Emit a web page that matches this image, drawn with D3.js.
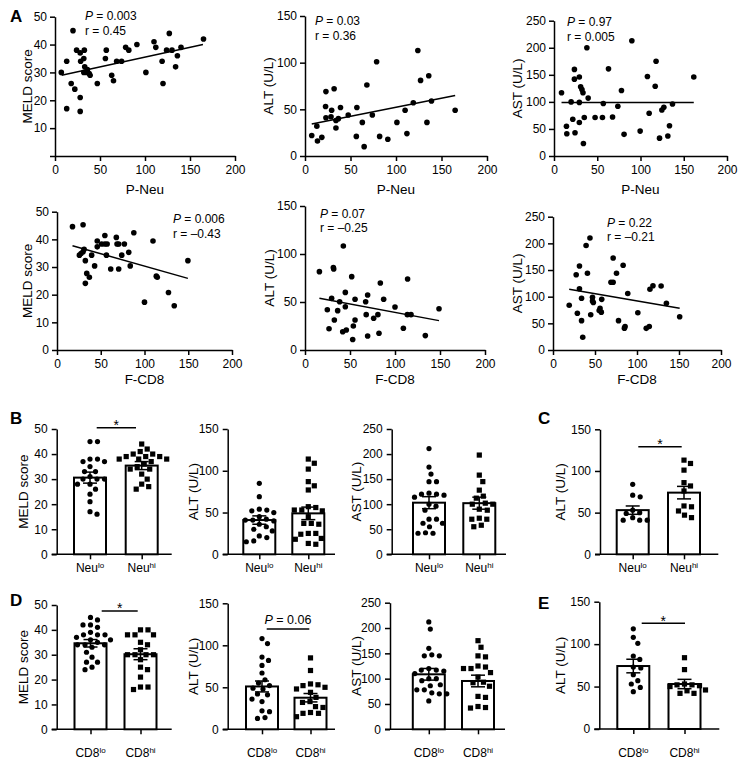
<!DOCTYPE html>
<html><head><meta charset="utf-8">
<script src="https://cdn.jsdelivr.net/npm/d3@7"></script>
<style>
body{margin:0;background:#fff;}
svg text{font-family:"Liberation Sans",Arial,Helvetica,sans-serif;fill:#000;}
</style></head><body>
<svg id="chart" width="741" height="762"></svg>
<script>
// ---------- DATA ----------
const xTicks = [0, 50, 100, 150, 200];
// A: P-Neu scatter
const meldPNeuX = [7,13,13,18,20,22,24,28,28.5,28,28,32.6,32,32,33,35,36,38,39,47,56,57,63,65,68.5,74,78.5,82,91,101,110,112,119,120,124,127,130,134,136,140,165];
const meldPNeuY = [30,34,17,26,45,24,38,37,34,21,16,38,35,30,32,30,31,29.6,29,26,35,38,29,27,34,34,39,38,40,30,41,39,34,26,38,44,38,32,36,39,42];
const altPNeuX = [7.4,13,13.7,18.5,23,22.6,23,28.6,29.3,32,34,34,36.7,39,47.5,56.4,57,63,65,68,74,78.7,82,91,101,110,112,119,124,127,134,136,139,165];
const altPNeuY = [22,32,16,20,69,53,41,42,49,72,38,30,40,52,44,21,52,36,10,76,44,101,21,18,36,49,24,57,113,81,36,86,59,49];
const astPNeuX = [8.7,14.4,14.8,19.8,21.7,23.6,23.6,24.3,29.3,29.3,29.3,30.8,32.3,33.5,35,34,38,39.5,47.5,57,56,63,67.7,73.8,78,81,90,99.6,108,110,117,118,122,124.7,127,131.6,133.5,137,161.6];
const astPNeuY = [117,55,41,100,68,160,142,43,146,99,62,128,123,117,71,23,200,107,71,97,71,161,72,92,121,40,213,46,147,79,129,175,33,85,90,37,56,96,146];
// A: F-CD8 scatter
const meldFCD8X = [17.7,29.8,25.6,27.5,29.8,31,32.4,32.4,34,37,39.6,43,46,46,51,54.7,54.7,57.3,56.5,61.4,67.8,68.6,70.5,70.5,74,77,82,83.7,87.8,100,109.7,113.5,114.6,127.4,134,149.6];
const meldFCD8Y = [44.6,45.3,34.3,34.9,35.5,36.4,32.3,24.1,27.7,26.3,34.3,30.4,39.4,37.3,38.3,41.4,38.3,38.3,34.3,29.3,40.7,38.3,38.3,29.3,34.3,38.3,35.3,30.4,42.4,17.3,39.4,26.7,26.3,20.8,16,32.3];
const altFCD8X = [16,24.8,26.7,29.6,31.5,31.9,32.6,36.3,38.5,41.9,42.6,44.8,44.8,45.9,51.9,53,53.7,55.6,55.6,67.4,68,69.6,69.6,76.3,81,82.2,83.7,87.4,100,109.3,114,113.7,117.8,133.7,148.9];
const altFCD8Y = [81.6,42,22.2,53.8,86,84.4,31.3,41,50.3,19,108.3,60,45,20.8,76.4,11,25,52.8,31.3,50.3,36.8,57.3,14.6,33,36.8,17.4,69.8,52.8,44.8,22.6,74,36.8,36.8,15,43];
const astFCD8X = [19.3,27.6,29,31.5,31.5,34,34,35.4,39.4,41,44,44.9,47,47,48,55,56,57.5,58,69,71.6,71.6,75.6,78,83.5,85,85.8,89,101,111,114.6,115.4,119,128.7,135,150.8];
const astFCD8Y = [84,141,69,157.5,115,97,55,24,196,144,210,66,92,99,89,74,78,71,95,127,127,172.5,144,55,159,41,44,106,70,40.6,44,114,120.6,120,87.5,62.5];
// regression lines [xStart, yStart, xEnd, yEnd]
const fitLines = [[7.4,29,164.4,40],[7.4,34.4,165,64.8],[8.7,98.8,161.6,98.8],[17.7,37.7,149.6,25.9],[16,53.8,148.9,30.6],[19.3,113.75,150.8,78.1]];
const statP = ["0.003","0.03","0.97","0.006","0.07","0.22"];
const statR = ["0.45","0.36","0.005","\u20130.43","\u20130.25","\u20130.21"];

// B: Neu groups
const bMeldLo = [45,45,38,38,37,37,35,33,33,31,30,30,30,28,28,26,24,21,17,16];
const bMeldHi = [44,42,41,40,40,39,39,39,38,38,38,37,36,35,34,34,32,30,28,27,26];
const bAltLo = [85,69,54,53,52,50,45,42,41,41,40,36,33,30,28,22,20,16,15];
const bAltHi = [114,109,102,87,82,77,57,56,53,53,52,45,37,37,36,25,25,24,19,18,13,12];
const bAstLo = [211,174,160,145,145,122,120,120,118,114,100,96,88,70,70,62,62,55,43,42,42];
const bAstHi = [198,158,145,128,116,112,102,100,100,90,88,72,70,70,58,55];
// C
const cAltLo = [84,71,69,53,50,49,44,41,41,41];
const cAltHi = [113,109,101,86,82,76,58,57,52,47,44];
// D: CD8 groups
const dMeldLo = [45,44,42,42,41,39,38,38,38,37,36,36,35,34,34,34,33,31,29,27,27,25,24];
const dMeldHi = [40,40,38,38,38,35,34,32,30,30,30,30,28,25,24,21,17,17,16];
const dAltLo = [108,102,86,82,76,67,59,55,52,49,48,42,41,36,33,22,21,14,13];
const dAltHi = [85,70,54,53,52,50,48,44,38,33,32,27,26,20,19,19,15];
const dAstLo = [212,198,160,147,145,145,120,117,117,115,110,100,100,96,88,86,78,78,72,70,70,56];
const dAstHi = [175,162,145,143,125,123,120,120,112,103,93,92,85,65,63,45,43,42];
// E
const eAltLo = [118,108,101,86,82,73,72,64,57,53,49,44];
const eAltHi = [84,70,53,52,52,51,50,46,45,42,42];
// bar means and SEM
const barMeans = {bMeld:[30.6,35.4], bAlt:[41,49], bAst:[103,102], cAlt:[53,74], dMeld:[34.6,30.2], dAlt:[51,37.6], dAst:[108.6,95.4], eAlt:[74.2,53]};
const barSems  = {bMeld:[2.2,1.6], bAlt:[5,7.5], bAst:[12,12], cAlt:[5,7.5], dMeld:[1.5,2.2], dAlt:[6.5,5], dAst:[11.5,11.5], eAlt:[8,5.5]};
const neuCats = [["Neu","lo"],["Neu","hi"]];
const cd8Cats = [["CD8","lo"],["CD8","hi"]];

// ---------- DRAW ----------
const svg = d3.select("#chart");
const LW = 1.5;

function styleAxis(g){
  g.selectAll("path,line").attr("stroke","#000").attr("stroke-width",LW);
  g.selectAll("text").attr("font-size",12).attr("fill","#000");
}

function yLabel(text, x, y){
  svg.append("text").attr("transform",`translate(${x},${y}) rotate(-90)`)
    .attr("text-anchor","middle").attr("dominant-baseline","central")
    .attr("font-size",13.5).text(text);
}

function scatterPanel(c){
  const x = d3.scaleLinear().domain([0,200]).range([c.x0,c.x1]);
  const y = d3.scaleLinear().domain([0,c.ymax]).range([c.y0,c.y1]);
  const gx = svg.append("g").attr("transform",`translate(0,${c.y0})`)
    .call(d3.axisBottom(x).tickValues(xTicks).tickSize(5).tickSizeOuter(0).tickPadding(4));
  styleAxis(gx);
  const gy = svg.append("g").attr("transform",`translate(${c.x0},0)`)
    .call(d3.axisLeft(y).tickValues(d3.range(0,c.ymax+1,c.step)).tickSize(5).tickSizeOuter(0).tickPadding(3)
      .tickFormat(d => (c.hide0 && d===0) ? "" : d));
  styleAxis(gy);
  svg.append("g").selectAll("circle").data(c.xs).join("circle")
    .attr("cx",(d)=>x(d)).attr("cy",(d,i)=>y(c.ys[i])).attr("r",2.8).attr("fill","#000");
  const f = c.fit;
  svg.append("line").attr("x1",x(f[0])).attr("y1",y(f[1])).attr("x2",x(f[2])).attr("y2",y(f[3]))
    .attr("stroke","#000").attr("stroke-width",LW);
  const t1 = svg.append("text").attr("x",c.ax).attr("y",c.ay).attr("font-size",12);
  t1.append("tspan").attr("font-style","italic").text("P");
  t1.append("tspan").text(" = " + c.p);
  svg.append("text").attr("x",c.ax).attr("y",c.ay+14.5).attr("font-size",12).text("r = " + c.r);
  svg.append("text").attr("x",(c.x0+c.x1)/2).attr("y",c.xlY).attr("text-anchor","middle")
    .attr("font-size",13.5).text(c.xlab);
  yLabel(c.ylab, c.ylx, (c.y0+c.y1)/2);
}

function swarmX(vals, cx, yS, D){
  const idx = d3.range(vals.length).sort((a,b)=>d3.descending(vals[a],vals[b]));
  const placed = [], xs = [];
  idx.forEach(i=>{
    const py = yS(vals[i]);
    let px = cx;
    for(let k=0;k<400;k++){
      const o = k===0 ? 0 : ((k%2)?1:-1)*Math.ceil(k/2)*0.5;
      const cand = cx+o;
      if(placed.every(p => (p[0]-cand)**2 + (p[1]-py)**2 >= D*D)){ px = cand; break; }
    }
    placed.push([px,py]); xs[i]=px;
  });
  return xs;
}

function barPanel(c){
  const y = d3.scaleLinear().domain([0,c.ymax]).range([c.y0,c.y1]);
  const x = d3.scalePoint().domain([0,1]).range(c.centers);
  const gy = svg.append("g").attr("transform",`translate(${c.ax},0)`)
    .call(d3.axisLeft(y).tickValues(d3.range(0,c.ymax+1,c.step)).tickSize(5).tickSizeOuter(0).tickPadding(4));
  styleAxis(gy);
  svg.append("line").attr("x1",c.ax-5).attr("x2",c.xend).attr("y1",c.y0).attr("y2",c.y0)
    .attr("stroke","#000").attr("stroke-width",LW);
  const gx = svg.append("g").attr("transform",`translate(0,${c.y0})`)
    .call(d3.axisBottom(x).tickSize(5).tickSizeOuter(0).tickFormat(""));
  gx.select(".domain").remove();
  styleAxis(gx);
  const bw = 32;
  c.groups.forEach((vals,gi)=>{
    const cx = x(gi);
    const m = c.means[gi], s = c.sems[gi];
    svg.append("rect").attr("x",cx-bw/2).attr("y",y(m)).attr("width",bw).attr("height",c.y0-y(m))
      .attr("fill","#fff").attr("stroke","#000").attr("stroke-width",2);
    const xs = swarmX(vals,cx,y,7.2);
    if(gi===0){
      svg.append("g").selectAll("circle").data(vals).join("circle")
        .attr("cx",(d,i)=>xs[i]).attr("cy",d=>y(d)).attr("r",2.6).attr("fill","#000");
    } else {
      svg.append("g").selectAll("rect").data(vals).join("rect")
        .attr("x",(d,i)=>xs[i]-2.6).attr("y",d=>y(d)-2.6).attr("width",5.2).attr("height",5.2).attr("fill","#000");
    }
    const eg = svg.append("g").attr("stroke","#000").attr("stroke-width",LW);
    eg.append("line").attr("x1",cx).attr("x2",cx).attr("y1",y(m-s)).attr("y2",y(m+s));
    eg.append("line").attr("x1",cx-7).attr("x2",cx+7).attr("y1",y(m+s)).attr("y2",y(m+s));
    eg.append("line").attr("x1",cx-7).attr("x2",cx+7).attr("y1",y(m-s)).attr("y2",y(m-s));
    const t = svg.append("text").attr("x",cx).attr("y",c.labY).attr("text-anchor","middle").attr("font-size",12);
    t.append("tspan").text(c.cats[gi][0]);
    t.append("tspan").attr("font-size",8).attr("dy",-4.5).text(c.cats[gi][1]);
  });
  if(c.sig){
    const sy = y(c.sig.v);
    svg.append("line").attr("x1",c.sig.x1).attr("x2",c.sig.x2).attr("y1",sy).attr("y2",sy)
      .attr("stroke","#000").attr("stroke-width",LW);
    const mid = (c.sig.x1+c.sig.x2)/2;
    if(c.sig.text === "*"){
      svg.append("text").attr("x",mid).attr("y",sy+2.5).attr("text-anchor","middle").attr("font-size",14).text("*");
    } else {
      const t = svg.append("text").attr("x",mid).attr("y",sy-5).attr("text-anchor","middle").attr("font-size",12.5);
      t.append("tspan").attr("font-style","italic").text("P");
      t.append("tspan").text(" = 0.06");
    }
  }
  yLabel(c.ylab, c.ylx, (c.y0+c.y1)/2);
}

// panel letters
[["A",10,22],["B",10,424],["C",538,424],["D",10,606],["E",538,609]].forEach(d=>{
  svg.append("text").attr("x",d[1]).attr("y",d[2]).attr("font-size",17).attr("font-weight","bold").text(d[0]);
});

// scatter panels
const scat = [
 {x0:55,x1:235,y0:156,y1:16.7,ymax:50,step:10,hide0:true,xs:meldPNeuX,ys:meldPNeuY,ylab:"MELD score",ylx:27,xlab:"P-Neu",xlY:194,ax:85,ay:20},
 {x0:305,x1:487,y0:156,y1:16,ymax:150,step:50,xs:altPNeuX,ys:altPNeuY,ylab:"ALT (U/L)",ylx:268,xlab:"P-Neu",xlY:194,ax:315,ay:25},
 {x0:554,x1:727,y0:156,y1:20.7,ymax:250,step:50,xs:astPNeuX,ys:astPNeuY,ylab:"AST (U/L)",ylx:517,xlab:"P-Neu",xlY:194,ax:567,ay:26},
 {x0:57,x1:232,y0:350,y1:211.7,ymax:50,step:10,xs:meldFCD8X,ys:meldFCD8Y,ylab:"MELD score",ylx:27,xlab:"F-CD8",xlY:384,ax:173,ay:223},
 {x0:305,x1:485,y0:350,y1:206,ymax:150,step:50,xs:altFCD8X,ys:altFCD8Y,ylab:"ALT (U/L)",ylx:269,xlab:"F-CD8",xlY:384,ax:320,ay:217.5},
 {x0:553,x1:721,y0:350,y1:216.7,ymax:250,step:50,xs:astFCD8X,ys:astFCD8Y,ylab:"AST (U/L)",ylx:517,xlab:"F-CD8",xlY:384,ax:607,ay:226.5}
];
scat.forEach((c,i)=>{ c.fit = fitLines[i]; c.p = statP[i]; c.r = statR[i]; scatterPanel(c); });

// bar panels
const bars = [
 {ax:56.7,xend:171.7,y0:554.3,y1:429,ymax:50,step:10,centers:[90,141.7],groups:[bMeldLo,bMeldHi],means:barMeans.bMeld,sems:barSems.bMeld,cats:neuCats,labY:572,ylab:"MELD score",ylx:23,sig:{v:50.5,x1:96.7,x2:136,text:"*"}},
 {ax:227.7,xend:335,y0:554.3,y1:429,ymax:150,step:50,centers:[259.3,308.3],groups:[bAltLo,bAltHi],means:barMeans.bAlt,sems:barSems.bAlt,cats:neuCats,labY:572,ylab:"ALT (U/L)",ylx:193},
 {ax:391.7,xend:506,y0:554.3,y1:429,ymax:250,step:50,centers:[429,479.3],groups:[bAstLo,bAstHi],means:barMeans.bAst,sems:barSems.bAst,cats:neuCats,labY:572,ylab:"AST (U/L)",ylx:356},
 {ax:600,xend:718.3,y0:554.3,y1:429.3,ymax:150,step:50,centers:[632.7,684],groups:[cAltLo,cAltHi],means:barMeans.cAlt,sems:barSems.cAlt,cats:neuCats,labY:572,ylab:"ALT (U/L)",ylx:560,sig:{v:129,x1:638.3,x2:681.7,text:"*"}},
 {ax:56.7,xend:171.7,y0:729.3,y1:605,ymax:50,step:10,centers:[90.5,140.5],groups:[dMeldLo,dMeldHi],means:barMeans.dMeld,sems:barSems.dMeld,cats:cd8Cats,labY:757,ylab:"MELD score",ylx:23,sig:{v:47.6,x1:101.7,x2:137.7,text:"*"}},
 {ax:227.7,xend:335,y0:729.3,y1:603.3,ymax:150,step:50,centers:[262,310.5],groups:[dAltLo,dAltHi],means:barMeans.dAlt,sems:barSems.dAlt,cats:cd8Cats,labY:757,ylab:"ALT (U/L)",ylx:193,sig:{v:119.4,x1:266.7,x2:309.3,text:"P"}},
 {ax:390,xend:505,y0:729.3,y1:602.7,ymax:250,step:50,centers:[428.8,478],groups:[dAstLo,dAstHi],means:barMeans.dAst,sems:barSems.dAst,cats:cd8Cats,labY:757,ylab:"AST (U/L)",ylx:356},
 {ax:599.3,xend:719.3,y0:729,y1:601.7,ymax:150,step:50,centers:[633.3,684.5],groups:[eAltLo,eAltHi],means:barMeans.eAlt,sems:barSems.eAlt,cats:cd8Cats,labY:757,ylab:"ALT (U/L)",ylx:560,sig:{v:124.5,x1:641.7,x2:685,text:"*"}}
];
bars.forEach(barPanel);
</script>
</body></html>
